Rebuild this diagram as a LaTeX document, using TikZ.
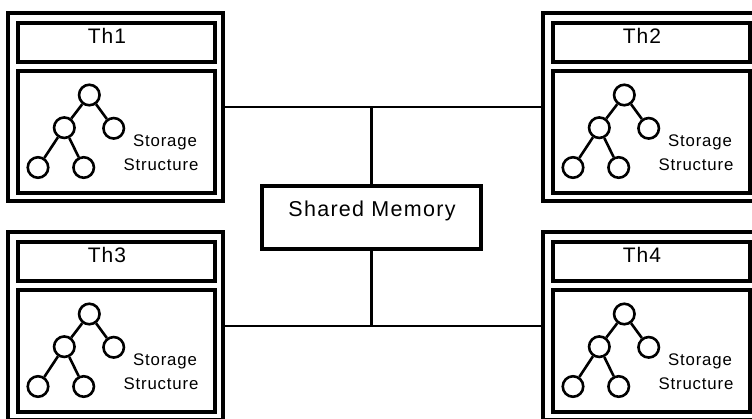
\documentclass[tikz,border=0pt]{standalone}
\usepackage{fontspec}
\setmainfont{Liberation Sans}
\begin{document}
\begin{tikzpicture}[x=1pt,y=-1pt,
  box/.style={draw,line width=3.2pt,inner sep=0pt,outer sep=0pt},
  leaf/.style={draw,circle,line width=2.6pt,minimum size=20.5pt,inner sep=0pt},
  twig/.style={line width=2.6pt},
  link/.style={line width=2.4pt},
  thlbl/.style={inner sep=0pt,anchor=base,font=\fontsize{21pt}{24pt}\selectfont\addfontfeatures{LetterSpace=5}},
  smlbl/.style={inner sep=0pt,anchor=base,font=\fontsize{21.5pt}{26pt}\selectfont\addfontfeatures{LetterSpace=6}},
  stlbl/.style={inner sep=0pt,anchor=base,font=\fontsize{16.8pt}{20pt}\selectfont\addfontfeatures{LetterSpace=5}}]
\useasboundingbox (0,0) rectangle (752,418);
\foreach \n/\dx/\dy in {1/0/0,2/535/0,3/0/219,4/535/219}{
  \begin{scope}[shift={(\dx,\dy)}]
    \node[box,minimum width=215pt,minimum height=188pt] (t\n) at (115.5,107) {};
    \node[box,minimum width=197pt,minimum height=39pt] (h\n) at (116.5,42.5) {};
    \node[thlbl] (l\n) at (107,43) {Th\n};
    \node[box,minimum width=197pt,minimum height=122pt] (s\n) at (116.5,132) {};
    \node[leaf] (r\n) at (89.3,95) {};
    \node[leaf] (a\n) at (64.3,127.7) {};
    \node[leaf] (b\n) at (113.7,128.3) {};
    \node[leaf] (c\n) at (38,167.5) {};
    \node[leaf] (d\n) at (83.7,167.5) {};
    \draw[twig] (r\n) -- (a\n);
    \draw[twig] (r\n) -- (b\n);
    \draw[twig] (a\n) -- (c\n);
    \draw[twig] (a\n) -- (d\n);
    \node[stlbl] (sa\n) at (165,146) {Storage};
    \node[stlbl] (sb\n) at (161,170) {Structure};
  \end{scope}
}
\node[box,minimum width=219pt,minimum height=63pt] (sm) at (371.5,217.5) {};
\node[smlbl] (smt) at (372,216) {Shared Memory};
\draw[link] (t1.east) -- (t2.west);
\draw[link] (t3.east) -- (t4.west);
\draw[link] (sm.north) -- (sm.north |- t1.east);
\draw[link] (sm.south) -- (sm.south |- t3.east);
\end{tikzpicture}
\end{document}
